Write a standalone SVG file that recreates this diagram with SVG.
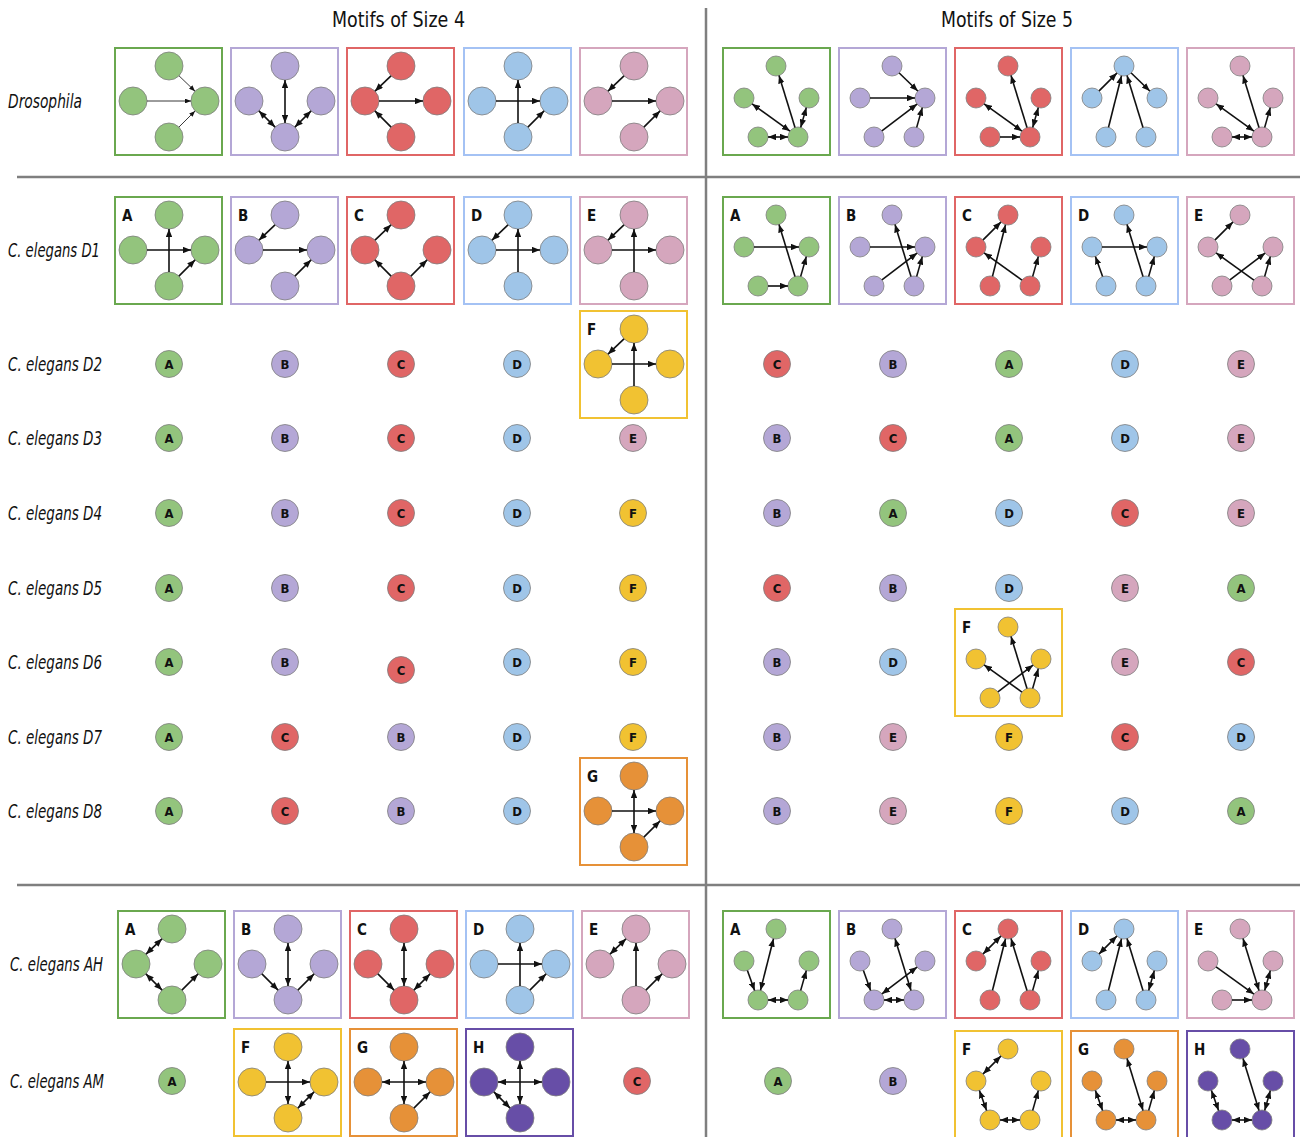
<svg xmlns="http://www.w3.org/2000/svg" width="1302" height="1137" viewBox="0 0 1302 1137">
<defs>
<marker id="ah" viewBox="0 0 10 8" refX="10" refY="4" markerWidth="8" markerHeight="6.4" markerUnits="userSpaceOnUse" orient="auto-start-reverse"><path d="M0,0 L10,4 L0,8 z" fill="#111"/></marker>
<marker id="as" viewBox="0 0 10 8" refX="10" refY="4" markerWidth="6" markerHeight="4.8" markerUnits="userSpaceOnUse" orient="auto-start-reverse"><path d="M0,0 L10,4 L0,8 z" fill="#111"/></marker>
</defs>
<style>
.bg{fill:#fff}
.div{stroke:#7f7f7f;stroke-width:2.5;fill:none}
.bx{fill:#fff;stroke-width:2}
.n{stroke:#7d7d7d;stroke-width:0.8}
.g{fill:#93c47d}.p{fill:#b4a7d6}.r{fill:#e06666}.b{fill:#9fc5e8}.k{fill:#d5a6bd}.y{fill:#f1c232}.o{fill:#e69138}.v{fill:#674ea7}
.bg1{stroke:#6aa84f}.bp1{stroke:#b4a7d6}.br1{stroke:#e06666}.bb1{stroke:#a4c2f4}.bk1{stroke:#d5a6bd}.by1{stroke:#f1c232}.bo1{stroke:#e69138}.bv1{stroke:#674ea7}
.e line{stroke:#111;stroke-width:1.6;marker-end:url(#ah)}
.e line.d{marker-start:url(#ah)}
.t line{stroke:#222;stroke-width:0.9;marker-end:url(#as)}
.title{font-family:"Liberation Sans Narrow","DejaVu Sans Condensed","DejaVu Sans",sans-serif;font-stretch:condensed;font-size:22px;fill:#111}
.lbl{font-family:"Liberation Sans Narrow","DejaVu Sans Condensed","DejaVu Sans",sans-serif;font-stretch:condensed;font-style:italic;font-size:19px;fill:#111}
.bl{font-family:"Liberation Sans Narrow","DejaVu Sans Condensed","DejaVu Sans",sans-serif;font-stretch:condensed;font-weight:bold;font-size:15px;fill:#111}
.sl{font-family:"Liberation Sans Narrow","DejaVu Sans Condensed","DejaVu Sans",sans-serif;font-stretch:condensed;font-weight:bold;font-size:13px;fill:#111;text-anchor:middle;dominant-baseline:central}
</style>
<rect class="bg" x="0" y="0" width="1302" height="1137"/>

<g id="dividers">
<line class="div" x1="706" y1="8" x2="706" y2="1137"/>
<line class="div" x1="17" y1="177" x2="1300" y2="177"/>
<line class="div" x1="17" y1="885" x2="1300" y2="885"/>
</g>

<g id="titles">
<text class="title" x="332" y="27" textLength="133" lengthAdjust="spacingAndGlyphs">Motifs of Size 4</text>
<text class="title" x="941" y="27" textLength="132" lengthAdjust="spacingAndGlyphs">Motifs of Size 5</text>
</g>

<g id="row-labels">
<text class="lbl" x="8" y="108" textLength="74" lengthAdjust="spacingAndGlyphs">Drosophila</text>
<text class="lbl" x="8" y="257" textLength="92" lengthAdjust="spacingAndGlyphs">C. elegans D1</text>
<text class="lbl" x="8" y="371" textLength="94" lengthAdjust="spacingAndGlyphs">C. elegans D2</text>
<text class="lbl" x="8" y="445" textLength="94" lengthAdjust="spacingAndGlyphs">C. elegans D3</text>
<text class="lbl" x="8" y="520" textLength="94" lengthAdjust="spacingAndGlyphs">C. elegans D4</text>
<text class="lbl" x="8" y="595" textLength="94" lengthAdjust="spacingAndGlyphs">C. elegans D5</text>
<text class="lbl" x="8" y="669" textLength="94" lengthAdjust="spacingAndGlyphs">C. elegans D6</text>
<text class="lbl" x="8" y="744" textLength="94" lengthAdjust="spacingAndGlyphs">C. elegans D7</text>
<text class="lbl" x="8" y="818" textLength="94" lengthAdjust="spacingAndGlyphs">C. elegans D8</text>
<text class="lbl" x="10" y="971" textLength="93" lengthAdjust="spacingAndGlyphs">C. elegans AH</text>
<text class="lbl" x="10" y="1088" textLength="94" lengthAdjust="spacingAndGlyphs">C. elegans AM</text>
</g>

<!-- ===== Size 4 motif boxes ===== -->
<g id="dros-s4-1" transform="translate(115,48)">
<rect class="bx bg1" width="107" height="107"/>
<circle class="n g" cx="54" cy="18" r="14"/><circle class="n g" cx="18" cy="53" r="14"/><circle class="n g" cx="90" cy="53" r="14"/><circle class="n g" cx="54" cy="89" r="14"/>
<g class="t"><line x1="64" y1="27.8" x2="80" y2="43.2"/><line x1="32" y1="53" x2="76" y2="53"/><line x1="63.9" y1="79.1" x2="80.1" y2="62.9"/></g>
</g>
<g id="dros-s4-2" transform="translate(231,48)">
<rect class="bx bp1" width="107" height="107"/>
<circle class="n p" cx="54" cy="18" r="14"/><circle class="n p" cx="18" cy="53" r="14"/><circle class="n p" cx="90" cy="53" r="14"/><circle class="n p" cx="54" cy="89" r="14"/>
<g class="e"><line class="d" x1="54" y1="32" x2="54" y2="75"/><line class="d" x1="27.9" y1="62.9" x2="44.1" y2="79.1"/><line class="d" x1="80.1" y1="62.9" x2="63.9" y2="79.1"/></g>
</g>
<g id="dros-s4-3" transform="translate(347,48)">
<rect class="bx br1" width="107" height="107"/>
<circle class="n r" cx="54" cy="18" r="14"/><circle class="n r" cx="18" cy="53" r="14"/><circle class="n r" cx="90" cy="53" r="14"/><circle class="n r" cx="54" cy="89" r="14"/>
<g class="e"><line x1="44" y1="27.8" x2="28" y2="43.2"/><line x1="32" y1="53" x2="76" y2="53"/><line x1="44.1" y1="79.1" x2="27.9" y2="62.9"/></g>
</g>
<g id="dros-s4-4" transform="translate(464,48)">
<rect class="bx bb1" width="107" height="107"/>
<circle class="n b" cx="54" cy="18" r="14"/><circle class="n b" cx="18" cy="53" r="14"/><circle class="n b" cx="90" cy="53" r="14"/><circle class="n b" cx="54" cy="89" r="14"/>
<g class="e"><line x1="32" y1="53" x2="76" y2="53"/><line x1="54" y1="75" x2="54" y2="32"/><line x1="63.9" y1="79.1" x2="80.1" y2="62.9"/></g>
</g>
<g id="dros-s4-5" transform="translate(580,48)">
<rect class="bx bk1" width="107" height="107"/>
<circle class="n k" cx="54" cy="18" r="14"/><circle class="n k" cx="18" cy="53" r="14"/><circle class="n k" cx="90" cy="53" r="14"/><circle class="n k" cx="54" cy="89" r="14"/>
<g class="e"><line x1="44" y1="27.8" x2="28" y2="43.2"/><line x1="32" y1="53" x2="76" y2="53"/><line x1="63.9" y1="79.1" x2="80.1" y2="62.9"/></g>
</g>

<g id="d1-s4-A" transform="translate(115,197)">
<rect class="bx bg1" width="107" height="107"/>
<circle class="n g" cx="54" cy="18" r="14"/><circle class="n g" cx="18" cy="53" r="14"/><circle class="n g" cx="90" cy="53" r="14"/><circle class="n g" cx="54" cy="89" r="14"/>
<g class="e"><line x1="54" y1="75" x2="54" y2="32"/><line x1="32" y1="53" x2="76" y2="53"/><line x1="63.9" y1="79.1" x2="80.1" y2="62.9"/></g>
<text class="bl" x="7" y="24">A</text>
</g>
<g id="d1-s4-B" transform="translate(231,197)">
<rect class="bx bp1" width="107" height="107"/>
<circle class="n p" cx="54" cy="18" r="14"/><circle class="n p" cx="18" cy="53" r="14"/><circle class="n p" cx="90" cy="53" r="14"/><circle class="n p" cx="54" cy="89" r="14"/>
<g class="e"><line x1="44" y1="27.8" x2="28" y2="43.2"/><line x1="32" y1="53" x2="76" y2="53"/><line x1="63.9" y1="79.1" x2="80.1" y2="62.9"/></g>
<text class="bl" x="7" y="24">B</text>
</g>
<g id="d1-s4-C" transform="translate(347,197)">
<rect class="bx br1" width="107" height="107"/>
<circle class="n r" cx="54" cy="18" r="14"/><circle class="n r" cx="18" cy="53" r="14"/><circle class="n r" cx="90" cy="53" r="14"/><circle class="n r" cx="54" cy="89" r="14"/>
<g class="e"><line x1="28" y1="43.2" x2="44" y2="27.8"/><line x1="44.1" y1="79.1" x2="27.9" y2="62.9"/><line x1="63.9" y1="79.1" x2="80.1" y2="62.9"/></g>
<text class="bl" x="7" y="24">C</text>
</g>
<g id="d1-s4-D" transform="translate(464,197)">
<rect class="bx bb1" width="107" height="107"/>
<circle class="n b" cx="54" cy="18" r="14"/><circle class="n b" cx="18" cy="53" r="14"/><circle class="n b" cx="90" cy="53" r="14"/><circle class="n b" cx="54" cy="89" r="14"/>
<g class="e"><line x1="44" y1="27.8" x2="28" y2="43.2"/><line x1="54" y1="75" x2="54" y2="32"/><line x1="32" y1="53" x2="76" y2="53"/></g>
<text class="bl" x="7" y="24">D</text>
</g>
<g id="d1-s4-E" transform="translate(580,197)">
<rect class="bx bk1" width="107" height="107"/>
<circle class="n k" cx="54" cy="18" r="14"/><circle class="n k" cx="18" cy="53" r="14"/><circle class="n k" cx="90" cy="53" r="14"/><circle class="n k" cx="54" cy="89" r="14"/>
<g class="e"><line x1="44" y1="27.8" x2="28" y2="43.2"/><line x1="54" y1="75" x2="54" y2="32"/><line x1="32" y1="53" x2="76" y2="53"/></g>
<text class="bl" x="7" y="24">E</text>
</g>

<g id="d2-s4-F" transform="translate(580,311)">
<rect class="bx by1" width="107" height="107"/>
<circle class="n y" cx="54" cy="18" r="14"/><circle class="n y" cx="18" cy="53" r="14"/><circle class="n y" cx="90" cy="53" r="14"/><circle class="n y" cx="54" cy="89" r="14"/>
<g class="e"><line x1="44" y1="27.8" x2="28" y2="43.2"/><line x1="54" y1="75" x2="54" y2="32"/><line x1="32" y1="53" x2="76" y2="53"/></g>
<text class="bl" x="7" y="24">F</text>
</g>

<g id="d8-s4-G" transform="translate(580,758)">
<rect class="bx bo1" width="107" height="107"/>
<circle class="n o" cx="54" cy="18" r="14"/><circle class="n o" cx="18" cy="53" r="14"/><circle class="n o" cx="90" cy="53" r="14"/><circle class="n o" cx="54" cy="89" r="14"/>
<g class="e"><line class="d" x1="54" y1="32" x2="54" y2="75"/><line x1="32" y1="53" x2="76" y2="53"/><line x1="63.9" y1="79.1" x2="80.1" y2="62.9"/></g>
<text class="bl" x="7" y="24">G</text>
</g>

<g id="ah-s4-A" transform="translate(118,911)">
<rect class="bx bg1" width="107" height="107"/>
<circle class="n g" cx="54" cy="18" r="14"/><circle class="n g" cx="18" cy="53" r="14"/><circle class="n g" cx="90" cy="53" r="14"/><circle class="n g" cx="54" cy="89" r="14"/>
<g class="e"><line class="d" x1="44" y1="27.8" x2="28" y2="43.2"/><line class="d" x1="27.9" y1="62.9" x2="44.1" y2="79.1"/><line x1="63.9" y1="79.1" x2="80.1" y2="62.9"/></g>
<text class="bl" x="7" y="24">A</text>
</g>
<g id="ah-s4-B" transform="translate(234,911)">
<rect class="bx bp1" width="107" height="107"/>
<circle class="n p" cx="54" cy="18" r="14"/><circle class="n p" cx="18" cy="53" r="14"/><circle class="n p" cx="90" cy="53" r="14"/><circle class="n p" cx="54" cy="89" r="14"/>
<g class="e"><line class="d" x1="54" y1="32" x2="54" y2="75"/><line x1="27.9" y1="62.9" x2="44.1" y2="79.1"/><line x1="63.9" y1="79.1" x2="80.1" y2="62.9"/></g>
<text class="bl" x="7" y="24">B</text>
</g>
<g id="ah-s4-C" transform="translate(350,911)">
<rect class="bx br1" width="107" height="107"/>
<circle class="n r" cx="54" cy="18" r="14"/><circle class="n r" cx="18" cy="53" r="14"/><circle class="n r" cx="90" cy="53" r="14"/><circle class="n r" cx="54" cy="89" r="14"/>
<g class="e"><line class="d" x1="54" y1="32" x2="54" y2="75"/><line x1="27.9" y1="62.9" x2="44.1" y2="79.1"/><line class="d" x1="63.9" y1="79.1" x2="80.1" y2="62.9"/></g>
<text class="bl" x="7" y="24">C</text>
</g>
<g id="ah-s4-D" transform="translate(466,911)">
<rect class="bx bb1" width="107" height="107"/>
<circle class="n b" cx="54" cy="18" r="14"/><circle class="n b" cx="18" cy="53" r="14"/><circle class="n b" cx="90" cy="53" r="14"/><circle class="n b" cx="54" cy="89" r="14"/>
<g class="e"><line x1="54" y1="75" x2="54" y2="32"/><line x1="32" y1="53" x2="76" y2="53"/><line x1="63.9" y1="79.1" x2="80.1" y2="62.9"/></g>
<text class="bl" x="7" y="24">D</text>
</g>
<g id="ah-s4-E" transform="translate(582,911)">
<rect class="bx bk1" width="107" height="107"/>
<circle class="n k" cx="54" cy="18" r="14"/><circle class="n k" cx="18" cy="53" r="14"/><circle class="n k" cx="90" cy="53" r="14"/><circle class="n k" cx="54" cy="89" r="14"/>
<g class="e"><line class="d" x1="44" y1="27.8" x2="28" y2="43.2"/><line x1="54" y1="75" x2="54" y2="32"/><line x1="63.9" y1="79.1" x2="80.1" y2="62.9"/></g>
<text class="bl" x="7" y="24">E</text>
</g>

<g id="am-s4-F" transform="translate(234,1029)">
<rect class="bx by1" width="107" height="107"/>
<circle class="n y" cx="54" cy="18" r="14"/><circle class="n y" cx="18" cy="53" r="14"/><circle class="n y" cx="90" cy="53" r="14"/><circle class="n y" cx="54" cy="89" r="14"/>
<g class="e"><line class="d" x1="54" y1="32" x2="54" y2="75"/><line x1="32" y1="53" x2="76" y2="53"/><line class="d" x1="63.9" y1="79.1" x2="80.1" y2="62.9"/></g>
<text class="bl" x="7" y="24">F</text>
</g>
<g id="am-s4-G" transform="translate(350,1029)">
<rect class="bx bo1" width="107" height="107"/>
<circle class="n o" cx="54" cy="18" r="14"/><circle class="n o" cx="18" cy="53" r="14"/><circle class="n o" cx="90" cy="53" r="14"/><circle class="n o" cx="54" cy="89" r="14"/>
<g class="e"><line class="d" x1="54" y1="32" x2="54" y2="75"/><line class="d" x1="32" y1="53" x2="76" y2="53"/><line x1="63.9" y1="79.1" x2="80.1" y2="62.9"/></g>
<text class="bl" x="7" y="24">G</text>
</g>
<g id="am-s4-H" transform="translate(466,1029)">
<rect class="bx bv1" width="107" height="107"/>
<circle class="n v" cx="54" cy="18" r="14"/><circle class="n v" cx="18" cy="53" r="14"/><circle class="n v" cx="90" cy="53" r="14"/><circle class="n v" cx="54" cy="89" r="14"/>
<g class="e"><line class="d" x1="54" y1="32" x2="54" y2="75"/><line class="d" x1="32" y1="53" x2="76" y2="53"/><line class="d" x1="27.9" y1="62.9" x2="44.1" y2="79.1"/></g>
<text class="bl" x="7" y="24">H</text>
</g>

<!-- ===== Size 5 motif boxes ===== -->
<g id="dros-s5-1" transform="translate(723,48)">
<rect class="bx bg1" width="107" height="107"/>
<circle class="n g" cx="53" cy="18" r="10"/><circle class="n g" cx="21" cy="50" r="10"/><circle class="n g" cx="86" cy="50" r="10"/><circle class="n g" cx="35" cy="89" r="10"/><circle class="n g" cx="75" cy="89" r="10"/>
<g class="e"><line x1="72" y1="79.5" x2="56" y2="27.5"/><line class="d" x1="66.9" y1="83.1" x2="29.1" y2="55.9"/><line class="d" x1="77.7" y1="79.4" x2="83.3" y2="59.6"/><line class="d" x1="45" y1="89" x2="65" y2="89"/></g>
</g>
<g id="dros-s5-2" transform="translate(839,48)">
<rect class="bx bp1" width="107" height="107"/>
<circle class="n p" cx="53" cy="18" r="10"/><circle class="n p" cx="21" cy="50" r="10"/><circle class="n p" cx="86" cy="50" r="10"/><circle class="n p" cx="35" cy="89" r="10"/><circle class="n p" cx="75" cy="89" r="10"/>
<g class="e"><line x1="60.2" y1="25" x2="78.8" y2="43"/><line x1="31" y1="50" x2="76" y2="50"/><line x1="42.9" y1="82.9" x2="78.1" y2="56.1"/><line x1="77.7" y1="79.4" x2="83.3" y2="59.6"/></g>
</g>
<g id="dros-s5-3" transform="translate(955,48)">
<rect class="bx br1" width="107" height="107"/>
<circle class="n r" cx="53" cy="18" r="10"/><circle class="n r" cx="21" cy="50" r="10"/><circle class="n r" cx="86" cy="50" r="10"/><circle class="n r" cx="35" cy="89" r="10"/><circle class="n r" cx="75" cy="89" r="10"/>
<g class="e"><line x1="72" y1="79.5" x2="56" y2="27.5"/><line class="d" x1="66.9" y1="83.1" x2="29.1" y2="55.9"/><line class="d" x1="77.7" y1="79.4" x2="83.3" y2="59.6"/><line x1="45" y1="89" x2="65" y2="89"/></g>
</g>
<g id="dros-s5-4" transform="translate(1071,48)">
<rect class="bx bb1" width="107" height="107"/>
<circle class="n b" cx="53" cy="18" r="10"/><circle class="n b" cx="21" cy="50" r="10"/><circle class="n b" cx="86" cy="50" r="10"/><circle class="n b" cx="35" cy="89" r="10"/><circle class="n b" cx="75" cy="89" r="10"/>
<g class="e"><line x1="28.1" y1="42.9" x2="45.9" y2="25.1"/><line x1="60.2" y1="25" x2="78.8" y2="43"/><line x1="37.5" y1="79.3" x2="50.5" y2="27.7"/><line x1="72" y1="79.5" x2="56" y2="27.5"/></g>
</g>
<g id="dros-s5-5" transform="translate(1187,48)">
<rect class="bx bk1" width="107" height="107"/>
<circle class="n k" cx="53" cy="18" r="10"/><circle class="n k" cx="21" cy="50" r="10"/><circle class="n k" cx="86" cy="50" r="10"/><circle class="n k" cx="35" cy="89" r="10"/><circle class="n k" cx="75" cy="89" r="10"/>
<g class="e"><line x1="72" y1="79.5" x2="56" y2="27.5"/><line class="d" x1="66.9" y1="83.1" x2="29.1" y2="55.9"/><line x1="77.7" y1="79.4" x2="83.3" y2="59.6"/><line class="d" x1="45" y1="89" x2="65" y2="89"/></g>
</g>

<g id="d1-s5-A" transform="translate(723,197)">
<rect class="bx bg1" width="107" height="107"/>
<circle class="n g" cx="53" cy="18" r="10"/><circle class="n g" cx="21" cy="50" r="10"/><circle class="n g" cx="86" cy="50" r="10"/><circle class="n g" cx="35" cy="89" r="10"/><circle class="n g" cx="75" cy="89" r="10"/>
<g class="e"><line x1="72" y1="79.5" x2="56" y2="27.5"/><line x1="31" y1="50" x2="76" y2="50"/><line x1="77.7" y1="79.4" x2="83.3" y2="59.6"/><line x1="45" y1="89" x2="65" y2="89"/></g>
<text class="bl" x="7" y="24">A</text>
</g>
<g id="d1-s5-B" transform="translate(839,197)">
<rect class="bx bp1" width="107" height="107"/>
<circle class="n p" cx="53" cy="18" r="10"/><circle class="n p" cx="21" cy="50" r="10"/><circle class="n p" cx="86" cy="50" r="10"/><circle class="n p" cx="35" cy="89" r="10"/><circle class="n p" cx="75" cy="89" r="10"/>
<g class="e"><line x1="72" y1="79.5" x2="56" y2="27.5"/><line x1="31" y1="50" x2="76" y2="50"/><line x1="42.9" y1="82.9" x2="78.1" y2="56.1"/><line x1="77.7" y1="79.4" x2="83.3" y2="59.6"/></g>
<text class="bl" x="7" y="24">B</text>
</g>
<g id="d1-s5-C" transform="translate(955,197)">
<rect class="bx br1" width="107" height="107"/>
<circle class="n r" cx="53" cy="18" r="10"/><circle class="n r" cx="21" cy="50" r="10"/><circle class="n r" cx="86" cy="50" r="10"/><circle class="n r" cx="35" cy="89" r="10"/><circle class="n r" cx="75" cy="89" r="10"/>
<g class="e"><line x1="28.1" y1="42.9" x2="45.9" y2="25.1"/><line x1="37.5" y1="79.3" x2="50.5" y2="27.7"/><line x1="66.9" y1="83.1" x2="29.1" y2="55.9"/><line x1="77.7" y1="79.4" x2="83.3" y2="59.6"/></g>
<text class="bl" x="7" y="24">C</text>
</g>
<g id="d1-s5-D" transform="translate(1071,197)">
<rect class="bx bb1" width="107" height="107"/>
<circle class="n b" cx="53" cy="18" r="10"/><circle class="n b" cx="21" cy="50" r="10"/><circle class="n b" cx="86" cy="50" r="10"/><circle class="n b" cx="35" cy="89" r="10"/><circle class="n b" cx="75" cy="89" r="10"/>
<g class="e"><line x1="72" y1="79.5" x2="56" y2="27.5"/><line x1="31" y1="50" x2="76" y2="50"/><line x1="31.6" y1="79.6" x2="24.4" y2="59.4"/><line x1="77.7" y1="79.4" x2="83.3" y2="59.6"/></g>
<text class="bl" x="7" y="24">D</text>
</g>
<g id="d1-s5-E" transform="translate(1187,197)">
<rect class="bx bk1" width="107" height="107"/>
<circle class="n k" cx="53" cy="18" r="10"/><circle class="n k" cx="21" cy="50" r="10"/><circle class="n k" cx="86" cy="50" r="10"/><circle class="n k" cx="35" cy="89" r="10"/><circle class="n k" cx="75" cy="89" r="10"/>
<g class="e"><line x1="28.1" y1="42.9" x2="45.9" y2="25.1"/><line x1="66.9" y1="83.1" x2="29.1" y2="55.9"/><line x1="42.9" y1="82.9" x2="78.1" y2="56.1"/><line x1="77.7" y1="79.4" x2="83.3" y2="59.6"/></g>
<text class="bl" x="7" y="24">E</text>
</g>

<g id="d6-s5-F" transform="translate(955,609)">
<rect class="bx by1" width="107" height="107"/>
<circle class="n y" cx="53" cy="18" r="10"/><circle class="n y" cx="21" cy="50" r="10"/><circle class="n y" cx="86" cy="50" r="10"/><circle class="n y" cx="35" cy="89" r="10"/><circle class="n y" cx="75" cy="89" r="10"/>
<g class="e"><line x1="72" y1="79.5" x2="56" y2="27.5"/><line x1="66.9" y1="83.1" x2="29.1" y2="55.9"/><line x1="42.9" y1="82.9" x2="78.1" y2="56.1"/><line x1="77.7" y1="79.4" x2="83.3" y2="59.6"/></g>
<text class="bl" x="7" y="24">F</text>
</g>

<g id="ah-s5-A" transform="translate(723,911)">
<rect class="bx bg1" width="107" height="107"/>
<circle class="n g" cx="53" cy="18" r="10"/><circle class="n g" cx="21" cy="50" r="10"/><circle class="n g" cx="86" cy="50" r="10"/><circle class="n g" cx="35" cy="89" r="10"/><circle class="n g" cx="75" cy="89" r="10"/>
<g class="e"><line class="d" x1="37.5" y1="79.3" x2="50.5" y2="27.7"/><line x1="24.4" y1="59.4" x2="31.6" y2="79.6"/><line class="d" x1="45" y1="89" x2="65" y2="89"/><line x1="77.7" y1="79.4" x2="83.3" y2="59.6"/></g>
<text class="bl" x="7" y="24">A</text>
</g>
<g id="ah-s5-B" transform="translate(839,911)">
<rect class="bx bp1" width="107" height="107"/>
<circle class="n p" cx="53" cy="18" r="10"/><circle class="n p" cx="21" cy="50" r="10"/><circle class="n p" cx="86" cy="50" r="10"/><circle class="n p" cx="35" cy="89" r="10"/><circle class="n p" cx="75" cy="89" r="10"/>
<g class="e"><line class="d" x1="72" y1="79.5" x2="56" y2="27.5"/><line x1="24.4" y1="59.4" x2="31.6" y2="79.6"/><line class="d" x1="42.9" y1="82.9" x2="78.1" y2="56.1"/><line class="d" x1="45" y1="89" x2="65" y2="89"/></g>
<text class="bl" x="7" y="24">B</text>
</g>
<g id="ah-s5-C" transform="translate(955,911)">
<rect class="bx br1" width="107" height="107"/>
<circle class="n r" cx="53" cy="18" r="10"/><circle class="n r" cx="21" cy="50" r="10"/><circle class="n r" cx="86" cy="50" r="10"/><circle class="n r" cx="35" cy="89" r="10"/><circle class="n r" cx="75" cy="89" r="10"/>
<g class="e"><line class="d" x1="28.1" y1="42.9" x2="45.9" y2="25.1"/><line x1="37.5" y1="79.3" x2="50.5" y2="27.7"/><line x1="72" y1="79.5" x2="56" y2="27.5"/><line x1="77.7" y1="79.4" x2="83.3" y2="59.6"/></g>
<text class="bl" x="7" y="24">C</text>
</g>
<g id="ah-s5-D" transform="translate(1071,911)">
<rect class="bx bb1" width="107" height="107"/>
<circle class="n b" cx="53" cy="18" r="10"/><circle class="n b" cx="21" cy="50" r="10"/><circle class="n b" cx="86" cy="50" r="10"/><circle class="n b" cx="35" cy="89" r="10"/><circle class="n b" cx="75" cy="89" r="10"/>
<g class="e"><line class="d" x1="28.1" y1="42.9" x2="45.9" y2="25.1"/><line x1="37.5" y1="79.3" x2="50.5" y2="27.7"/><line x1="72" y1="79.5" x2="56" y2="27.5"/><line class="d" x1="77.7" y1="79.4" x2="83.3" y2="59.6"/></g>
<text class="bl" x="7" y="24">D</text>
</g>
<g id="ah-s5-E" transform="translate(1187,911)">
<rect class="bx bk1" width="107" height="107"/>
<circle class="n k" cx="53" cy="18" r="10"/><circle class="n k" cx="21" cy="50" r="10"/><circle class="n k" cx="86" cy="50" r="10"/><circle class="n k" cx="35" cy="89" r="10"/><circle class="n k" cx="75" cy="89" r="10"/>
<g class="e"><line class="d" x1="72" y1="79.5" x2="56" y2="27.5"/><line x1="29.1" y1="55.9" x2="66.9" y2="83.1"/><line x1="45" y1="89" x2="65" y2="89"/><line class="d" x1="77.7" y1="79.4" x2="83.3" y2="59.6"/></g>
<text class="bl" x="7" y="24">E</text>
</g>

<g id="am-s5-F" transform="translate(955,1031)">
<rect class="bx by1" width="107" height="107"/>
<circle class="n y" cx="53" cy="18" r="10"/><circle class="n y" cx="21" cy="50" r="10"/><circle class="n y" cx="86" cy="50" r="10"/><circle class="n y" cx="35" cy="89" r="10"/><circle class="n y" cx="75" cy="89" r="10"/>
<g class="e"><line class="d" x1="28.1" y1="42.9" x2="45.9" y2="25.1"/><line class="d" x1="31.6" y1="79.6" x2="24.4" y2="59.4"/><line class="d" x1="45" y1="89" x2="65" y2="89"/><line x1="77.7" y1="79.4" x2="83.3" y2="59.6"/></g>
<text class="bl" x="7" y="24">F</text>
</g>
<g id="am-s5-G" transform="translate(1071,1031)">
<rect class="bx bo1" width="107" height="107"/>
<circle class="n o" cx="53" cy="18" r="10"/><circle class="n o" cx="21" cy="50" r="10"/><circle class="n o" cx="86" cy="50" r="10"/><circle class="n o" cx="35" cy="89" r="10"/><circle class="n o" cx="75" cy="89" r="10"/>
<g class="e"><line class="d" x1="72" y1="79.5" x2="56" y2="27.5"/><line class="d" x1="31.6" y1="79.6" x2="24.4" y2="59.4"/><line class="d" x1="45" y1="89" x2="65" y2="89"/><line x1="77.7" y1="79.4" x2="83.3" y2="59.6"/></g>
<text class="bl" x="7" y="24">G</text>
</g>
<g id="am-s5-H" transform="translate(1187,1031)">
<rect class="bx bv1" width="107" height="107"/>
<circle class="n v" cx="53" cy="18" r="10"/><circle class="n v" cx="21" cy="50" r="10"/><circle class="n v" cx="86" cy="50" r="10"/><circle class="n v" cx="35" cy="89" r="10"/><circle class="n v" cx="75" cy="89" r="10"/>
<g class="e"><line class="d" x1="72" y1="79.5" x2="56" y2="27.5"/><line class="d" x1="31.6" y1="79.6" x2="24.4" y2="59.4"/><line class="d" x1="45" y1="89" x2="65" y2="89"/><line class="d" x1="77.7" y1="79.4" x2="83.3" y2="59.6"/></g>
<text class="bl" x="7" y="24">H</text>
</g>

<g id="rank-circles">
<g id="d2-A4"><circle class="n g" cx="169" cy="364" r="13.5"/><text class="sl" x="169" y="364">A</text></g>
<g id="d2-B4"><circle class="n p" cx="285" cy="364" r="13.5"/><text class="sl" x="285" y="364">B</text></g>
<g id="d2-C4"><circle class="n r" cx="401" cy="364" r="13.5"/><text class="sl" x="401" y="364">C</text></g>
<g id="d2-D4"><circle class="n b" cx="517" cy="364" r="13.5"/><text class="sl" x="517" y="364">D</text></g>
<g id="d2-C5"><circle class="n r" cx="777" cy="364" r="13.5"/><text class="sl" x="777" y="364">C</text></g>
<g id="d2-B5"><circle class="n p" cx="893" cy="364" r="13.5"/><text class="sl" x="893" y="364">B</text></g>
<g id="d2-A5"><circle class="n g" cx="1009" cy="364" r="13.5"/><text class="sl" x="1009" y="364">A</text></g>
<g id="d2-D5"><circle class="n b" cx="1125" cy="364" r="13.5"/><text class="sl" x="1125" y="364">D</text></g>
<g id="d2-E5"><circle class="n k" cx="1241" cy="364" r="13.5"/><text class="sl" x="1241" y="364">E</text></g>
<g id="d3-A4"><circle class="n g" cx="169" cy="438" r="13.5"/><text class="sl" x="169" y="438">A</text></g>
<g id="d3-B4"><circle class="n p" cx="285" cy="438" r="13.5"/><text class="sl" x="285" y="438">B</text></g>
<g id="d3-C4"><circle class="n r" cx="401" cy="438" r="13.5"/><text class="sl" x="401" y="438">C</text></g>
<g id="d3-D4"><circle class="n b" cx="517" cy="438" r="13.5"/><text class="sl" x="517" y="438">D</text></g>
<g id="d3-E4"><circle class="n k" cx="633" cy="438" r="13.5"/><text class="sl" x="633" y="438">E</text></g>
<g id="d3-B5"><circle class="n p" cx="777" cy="438" r="13.5"/><text class="sl" x="777" y="438">B</text></g>
<g id="d3-C5"><circle class="n r" cx="893" cy="438" r="13.5"/><text class="sl" x="893" y="438">C</text></g>
<g id="d3-A5"><circle class="n g" cx="1009" cy="438" r="13.5"/><text class="sl" x="1009" y="438">A</text></g>
<g id="d3-D5"><circle class="n b" cx="1125" cy="438" r="13.5"/><text class="sl" x="1125" y="438">D</text></g>
<g id="d3-E5"><circle class="n k" cx="1241" cy="438" r="13.5"/><text class="sl" x="1241" y="438">E</text></g>
<g id="d4-A4"><circle class="n g" cx="169" cy="513" r="13.5"/><text class="sl" x="169" y="513">A</text></g>
<g id="d4-B4"><circle class="n p" cx="285" cy="513" r="13.5"/><text class="sl" x="285" y="513">B</text></g>
<g id="d4-C4"><circle class="n r" cx="401" cy="513" r="13.5"/><text class="sl" x="401" y="513">C</text></g>
<g id="d4-D4"><circle class="n b" cx="517" cy="513" r="13.5"/><text class="sl" x="517" y="513">D</text></g>
<g id="d4-F4"><circle class="n y" cx="633" cy="513" r="13.5"/><text class="sl" x="633" y="513">F</text></g>
<g id="d4-B5"><circle class="n p" cx="777" cy="513" r="13.5"/><text class="sl" x="777" y="513">B</text></g>
<g id="d4-A5"><circle class="n g" cx="893" cy="513" r="13.5"/><text class="sl" x="893" y="513">A</text></g>
<g id="d4-D5"><circle class="n b" cx="1009" cy="513" r="13.5"/><text class="sl" x="1009" y="513">D</text></g>
<g id="d4-C5"><circle class="n r" cx="1125" cy="513" r="13.5"/><text class="sl" x="1125" y="513">C</text></g>
<g id="d4-E5"><circle class="n k" cx="1241" cy="513" r="13.5"/><text class="sl" x="1241" y="513">E</text></g>
<g id="d5-A4"><circle class="n g" cx="169" cy="588" r="13.5"/><text class="sl" x="169" y="588">A</text></g>
<g id="d5-B4"><circle class="n p" cx="285" cy="588" r="13.5"/><text class="sl" x="285" y="588">B</text></g>
<g id="d5-C4"><circle class="n r" cx="401" cy="588" r="13.5"/><text class="sl" x="401" y="588">C</text></g>
<g id="d5-D4"><circle class="n b" cx="517" cy="588" r="13.5"/><text class="sl" x="517" y="588">D</text></g>
<g id="d5-F4"><circle class="n y" cx="633" cy="588" r="13.5"/><text class="sl" x="633" y="588">F</text></g>
<g id="d5-C5"><circle class="n r" cx="777" cy="588" r="13.5"/><text class="sl" x="777" y="588">C</text></g>
<g id="d5-B5"><circle class="n p" cx="893" cy="588" r="13.5"/><text class="sl" x="893" y="588">B</text></g>
<g id="d5-D5"><circle class="n b" cx="1009" cy="588" r="13.5"/><text class="sl" x="1009" y="588">D</text></g>
<g id="d5-E5"><circle class="n k" cx="1125" cy="588" r="13.5"/><text class="sl" x="1125" y="588">E</text></g>
<g id="d5-A5"><circle class="n g" cx="1241" cy="588" r="13.5"/><text class="sl" x="1241" y="588">A</text></g>
<g id="d6-A4"><circle class="n g" cx="169" cy="662" r="13.5"/><text class="sl" x="169" y="662">A</text></g>
<g id="d6-B4"><circle class="n p" cx="285" cy="662" r="13.5"/><text class="sl" x="285" y="662">B</text></g>
<g id="d6-C4"><circle class="n r" cx="401" cy="670" r="13.5"/><text class="sl" x="401" y="670">C</text></g>
<g id="d6-D4"><circle class="n b" cx="517" cy="662" r="13.5"/><text class="sl" x="517" y="662">D</text></g>
<g id="d6-F4"><circle class="n y" cx="633" cy="662" r="13.5"/><text class="sl" x="633" y="662">F</text></g>
<g id="d6-B5"><circle class="n p" cx="777" cy="662" r="13.5"/><text class="sl" x="777" y="662">B</text></g>
<g id="d6-D5"><circle class="n b" cx="893" cy="662" r="13.5"/><text class="sl" x="893" y="662">D</text></g>
<g id="d6-E5"><circle class="n k" cx="1125" cy="662" r="13.5"/><text class="sl" x="1125" y="662">E</text></g>
<g id="d6-C5"><circle class="n r" cx="1241" cy="662" r="13.5"/><text class="sl" x="1241" y="662">C</text></g>
<g id="d7-A4"><circle class="n g" cx="169" cy="737" r="13.5"/><text class="sl" x="169" y="737">A</text></g>
<g id="d7-C4"><circle class="n r" cx="285" cy="737" r="13.5"/><text class="sl" x="285" y="737">C</text></g>
<g id="d7-B4"><circle class="n p" cx="401" cy="737" r="13.5"/><text class="sl" x="401" y="737">B</text></g>
<g id="d7-D4"><circle class="n b" cx="517" cy="737" r="13.5"/><text class="sl" x="517" y="737">D</text></g>
<g id="d7-F4"><circle class="n y" cx="633" cy="737" r="13.5"/><text class="sl" x="633" y="737">F</text></g>
<g id="d7-B5"><circle class="n p" cx="777" cy="737" r="13.5"/><text class="sl" x="777" y="737">B</text></g>
<g id="d7-E5"><circle class="n k" cx="893" cy="737" r="13.5"/><text class="sl" x="893" y="737">E</text></g>
<g id="d7-F5"><circle class="n y" cx="1009" cy="737" r="13.5"/><text class="sl" x="1009" y="737">F</text></g>
<g id="d7-C5"><circle class="n r" cx="1125" cy="737" r="13.5"/><text class="sl" x="1125" y="737">C</text></g>
<g id="d7-D5"><circle class="n b" cx="1241" cy="737" r="13.5"/><text class="sl" x="1241" y="737">D</text></g>
<g id="d8-A4"><circle class="n g" cx="169" cy="811" r="13.5"/><text class="sl" x="169" y="811">A</text></g>
<g id="d8-C4"><circle class="n r" cx="285" cy="811" r="13.5"/><text class="sl" x="285" y="811">C</text></g>
<g id="d8-B4"><circle class="n p" cx="401" cy="811" r="13.5"/><text class="sl" x="401" y="811">B</text></g>
<g id="d8-D4"><circle class="n b" cx="517" cy="811" r="13.5"/><text class="sl" x="517" y="811">D</text></g>
<g id="d8-B5"><circle class="n p" cx="777" cy="811" r="13.5"/><text class="sl" x="777" y="811">B</text></g>
<g id="d8-E5"><circle class="n k" cx="893" cy="811" r="13.5"/><text class="sl" x="893" y="811">E</text></g>
<g id="d8-F5"><circle class="n y" cx="1009" cy="811" r="13.5"/><text class="sl" x="1009" y="811">F</text></g>
<g id="d8-D5"><circle class="n b" cx="1125" cy="811" r="13.5"/><text class="sl" x="1125" y="811">D</text></g>
<g id="d8-A5"><circle class="n g" cx="1241" cy="811" r="13.5"/><text class="sl" x="1241" y="811">A</text></g>
<g id="am-A4"><circle class="n g" cx="172" cy="1081" r="13.5"/><text class="sl" x="172" y="1081">A</text></g>
<g id="am-C4"><circle class="n r" cx="637" cy="1081" r="13.5"/><text class="sl" x="637" y="1081">C</text></g>
<g id="am-A5"><circle class="n g" cx="778" cy="1081" r="13.5"/><text class="sl" x="778" y="1081">A</text></g>
<g id="am-B5"><circle class="n p" cx="893" cy="1081" r="13.5"/><text class="sl" x="893" y="1081">B</text></g>
</g>
</svg>
